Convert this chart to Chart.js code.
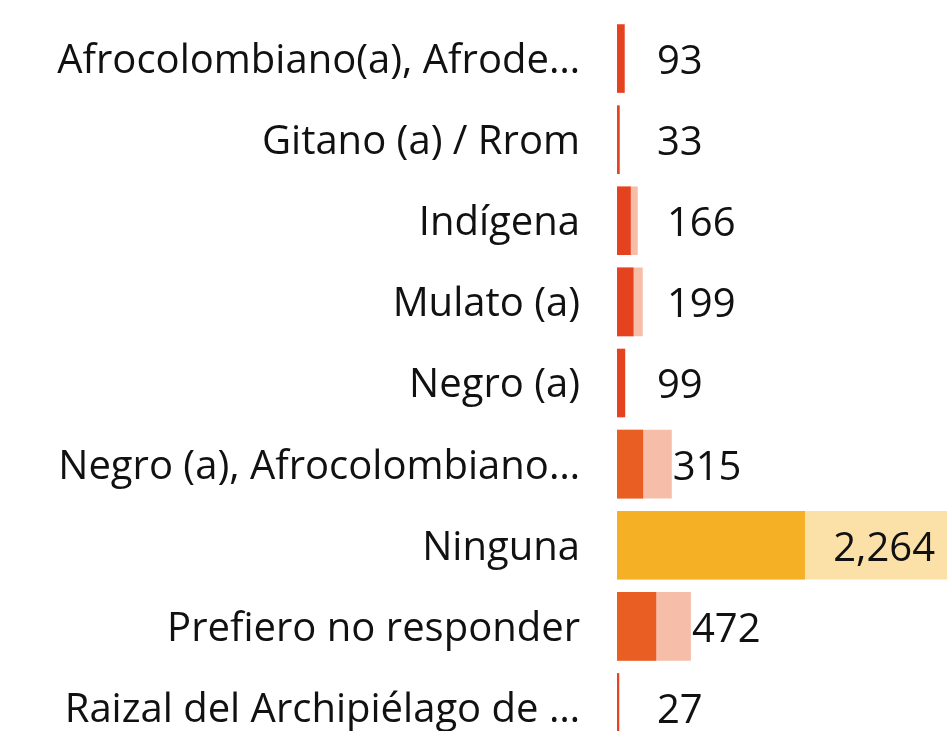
<!DOCTYPE html>
<html>
<head>
<meta charset="utf-8">
<script src="https://cdn.jsdelivr.net/npm/chart.js@4"></script>
<style>
  html, body { margin: 0; padding: 0; background: #fff; overflow: hidden; }
  #wrap { position: relative; width: 947px; height: 770px; }
</style>
</head>
<body>
<div id="wrap"><canvas id="chart"></canvas></div>
<script>
// categories (as truncated on the reference)
const categories = [
	'Afrocolombiano(a), Afrode…',
	'Gitano (a) / Rrom',
	'Indígena',
	'Mulato (a)',
	'Negro (a)',
	'Negro (a), Afrocolombiano…',
	'Ninguna',
	'Prefiero no responder',
	'Raizal del Archipiélago de …'
];
// main value (dark bar, also the label)
const totals = [93, 33, 166, 199, 99, 315, 2264, 472, 27];
// background value (light bar behind)
const reference = [0, 0, 250, 310, 0, 660, 4000, 890, 0];
const xMax = 3975;

const darkColors = ['#E5421F', '#E5421F', '#E5421F', '#E5421F', '#E5421F', '#E95E22', '#F6B026', '#E95E22', '#E5421F'];
const lightColors = ['#F6BDA9', '#F6BDA9', '#F6BDA9', '#F6BDA9', '#F6BDA9', '#F6BDA9', '#FBE0A8', '#F6BDA9', '#F6BDA9'];

const FONT = "'Open Sans', 'Noto Sans', sans-serif";
const FONT_SIZE = 40;

// value labels, placed after the bars (or inside when no room)
const valueLabels = {
	id: 'valueLabels',
	afterDatasetsDraw(chart) {
		const ctx = chart.ctx;
		const area = chart.chartArea;
		const x = chart.scales.x;
		const base = x.getPixelForValue(0);
		const darkMeta = chart.getDatasetMeta(0);
		ctx.save();
		ctx.font = FONT_SIZE + 'px ' + FONT;
		ctx.fillStyle = '#111';
		ctx.textBaseline = 'middle';
		totals.forEach((v, i) => {
			const txt = v.toLocaleString('en-US');
			const w = ctx.measureText(txt).width;
			const end = x.getPixelForValue(Math.max(v, reference[i]));
			const y = darkMeta.data[i].y + 4;
			let left = Math.max(end + 1, base + 40 + (txt.length - 2) * 10);
			if (left + w > area.right) {
				ctx.textAlign = 'right';
				ctx.fillText(txt, Math.min(end, area.right) - 12, y);
			} else {
				ctx.textAlign = 'left';
				ctx.fillText(txt, left, y);
			}
		});
		ctx.restore();
	}
};

new Chart(document.getElementById('chart'), {
	type: 'bar',
	data: {
		labels: categories,
		datasets: [
			{
				label: 'Total',
				data: totals,
				backgroundColor: darkColors,
				grouped: false,
				barPercentage: 0.846,
				categoryPercentage: 1
			},
			{
				label: 'Referencia',
				data: reference,
				backgroundColor: lightColors,
				grouped: false,
				barPercentage: 0.846,
				categoryPercentage: 1
			}
		]
	},
	options: {
		indexAxis: 'y',
		responsive: true,
		maintainAspectRatio: false,
		animation: false,
		layout: { padding: { top: 18, right: 0, bottom: 22, left: 0 } },
		plugins: {
			legend: { display: false },
			tooltip: { enabled: false }
		},
		scales: {
			x: {
				min: 0,
				max: xMax,
				display: false
			},
			y: {
				grid: { display: false, drawTicks: false },
				border: { display: false },
				ticks: {
					color: '#111',
					padding: 37,
					labelOffset: 3,
					font: { family: FONT, size: FONT_SIZE }
				},
				afterFit(scale) {
					scale.width = 617;
					scale.paddingTop = 0;
					scale.paddingBottom = 0;
				}
			}
		}
	},
	plugins: [valueLabels]
});
</script>
</body>
</html>
